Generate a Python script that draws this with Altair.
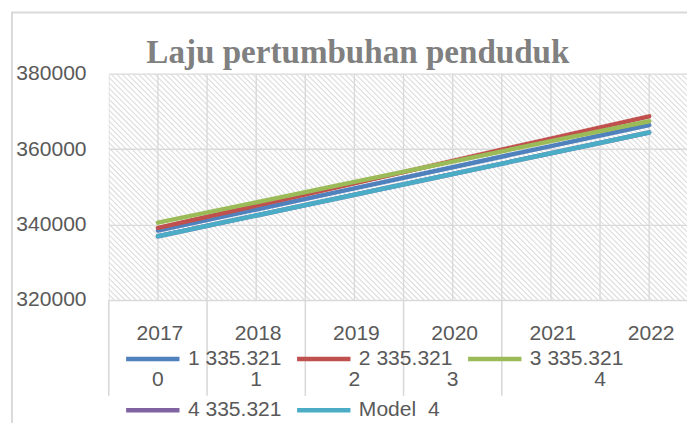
import altair as alt
import pandas as pd

# ---- data ----
years = [2017, 2018, 2019, 2020, 2021, 2022]
series_names = ["1 335.321", "2 335.321", "3 335.321", "4 335.321", "Model\u00a0 4"]
s1 = [338400, 344000, 349600, 355200, 360800, 366400]
s2 = [339100, 345000, 350900, 356900, 362800, 368700]
s3 = [340500, 345900, 351300, 356700, 362100, 367400]
s4 = [336900, 342400, 347900, 353400, 358900, 364400]
model4 = [336900, 342400, 347900, 353400, 358900, 364400]
colors = ["#4F81BD", "#C0504D", "#9BBB59", "#8064A2", "#4BACC6"]

y_ticks = [320000, 340000, 360000, 380000]

# second level of the category axis
group_labels = ["0", "1", "2", "3", "4"]
group_first = [2017, 2018, 2019, 2020, 2021]
group_last = [2017, 2018, 2019, 2020, 2022]

title_text = "Laju pertumbuhan penduduk"

rows = []
for name, vals in zip(series_names, [s1, s2, s3, s4, model4]):
    for yr, v in zip(years, vals):
        rows.append({"year": yr, "series": name, "value": v})
df = pd.DataFrame(rows)
yrs = pd.DataFrame({"year": years, "label": [str(y) for y in years]})
groups = pd.DataFrame({"label": group_labels, "first": group_first, "last": group_last})

FONT = "Liberation Sans"
GRID = "#d9d9d9"
TXT = "#595959"
FS = 21.3

xscale = alt.Scale(domain=[2016.5, 2022.385], nice=False, zero=False)
yscale = alt.Scale(domain=[320000, 380000], nice=False, zero=False)
yaxis = alt.Axis(values=y_ticks, format="d", ticks=False, domain=False, grid=True,
                 gridColor=GRID, gridWidth=1.4, labelFont=FONT, labelFontSize=FS,
                 labelColor=TXT, labelPadding=23, title="")

# hatch pattern of the plot area (decoration)
hatch = alt.Chart(alt.sequence(0, 160, 1, as_="i")).transform_calculate(
    hx1="2014.196 + datum.i * 0.0553",
    hx2="2016.5 + datum.i * 0.0553",
    hy1="380000",
    hy2="320000",
).mark_rule(clip=True, color="#dcdcdc", strokeWidth=1.1).encode(
    x=alt.X("hx1:Q", scale=xscale, axis=None),
    x2="hx2:Q",
    y=alt.Y("hy1:Q", scale=yscale, axis=yaxis),
    y2="hy2:Q",
)

# vertical gridlines at category centres and boundaries
vgrid = alt.Chart(yrs).transform_fold(["year"], as_=["k", "c"]).transform_calculate(
    b="datum.c - 0.5").transform_fold(["c", "b"], as_=["kind", "gx"]).mark_rule(
    clip=True, color=GRID, strokeWidth=1.4).encode(
    x=alt.X("gx:Q", scale=xscale, axis=None),
)

lines = alt.Chart(df).mark_line(strokeWidth=4.5, strokeCap="round").encode(
    x=alt.X("year:Q", scale=xscale, axis=None),
    y=alt.Y("value:Q", scale=yscale, axis=yaxis),
    color=alt.Color("series:N", scale=alt.Scale(domain=series_names, range=colors),
                    sort=series_names,
                    legend=alt.Legend(orient="none", legendX=15, legendY=259, columns=3,
                                      direction="horizontal", title=None,
                                      symbolType="stroke", symbolSize=2916,
                                      symbolStrokeWidth=4.5, labelFont=FONT,
                                      labelFontSize=FS, labelColor=TXT, labelOffset=6,
                                      columnPadding=6, rowPadding=12, padding=0,
                                      labelLimit=300)),
)

year_labels = alt.Chart(yrs).mark_text(
    font=FONT, fontSize=FS, color=TXT, baseline="alphabetic", align="center", dx=2).encode(
    x=alt.X("year:Q", scale=xscale, axis=None),
    y=alt.value(269),
    text="label:N",
)

ticks2 = alt.Chart(groups).transform_calculate(b="datum.first - 0.5").mark_rule(
    color=GRID, strokeWidth=1.6).encode(
    x=alt.X("b:Q", scale=xscale, axis=None),
    y=alt.value(229),
    y2=alt.value(326),
)

labels2 = alt.Chart(groups).transform_calculate(c="(datum.first + datum.last) / 2").mark_text(
    font=FONT, fontSize=FS, color=TXT, baseline="alphabetic", align="center").encode(
    x=alt.X("c:Q", scale=xscale, axis=None),
    y=alt.value(316),
    text="label:N",
)

title = alt.Chart(alt.Data(values=[{"t": title_text}])).mark_text(
    font="Liberation Serif", fontSize=33.5, fontWeight="bold", color="#808080",
    align="left", baseline="alphabetic").encode(
    x=alt.value(38), y=alt.value(-11), text="t:N")

border = alt.Chart(alt.Data(values=[{"k": 1}])).mark_rect(
    fillOpacity=0, stroke=GRID, strokeWidth=2).encode(
    x=alt.value(-98), x2=alt.value(700), y=alt.value(-62), y2=alt.value(500))

chart = alt.layer(border, hatch, vgrid, lines, year_labels, ticks2, labels2, title).properties(
    width=585,
    height=229,
    padding={"left": 102, "top": 64, "right": 0, "bottom": 122},
    autosize=alt.AutoSizeParams(type="none"),
).configure_view(strokeWidth=0)

chart.save("out.html", embed_options={"renderer": "svg", "actions": False})
